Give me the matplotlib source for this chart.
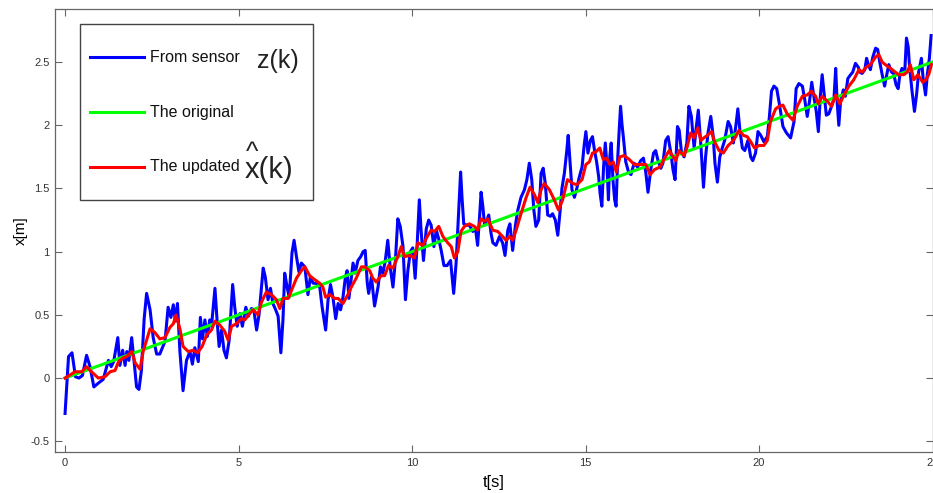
import matplotlib.pyplot as plt
from matplotlib.lines import Line2D
from matplotlib.patches import Rectangle

# measured position z(k) from the sensor, by time segment
sensor_t_0 = [0.00, 0.10, 0.20, 0.30, 0.40, 0.50, 0.62, 0.72, 0.83, 0.96,
              1.10, 1.25, 1.33, 1.40, 1.52, 1.58, 1.66, 1.73, 1.78, 1.84,
              1.92, 1.99, 2.06, 2.13, 2.20, 2.28, 2.35, 2.45, 2.54, 2.64,
              2.73, 2.88, 2.97, 3.05, 3.12, 3.18, 3.24, 3.31, 3.40, 3.50,
              3.60, 3.67, 3.74, 3.84]
sensor_x_0 = [-0.28, 0.17, 0.20, 0.01, 0.00, 0.02, 0.18, 0.09, -0.07, -0.04,
              -0.01, 0.14, 0.09, 0.13, 0.32, 0.10, 0.22, 0.10, 0.21, 0.14,
              0.32, 0.13, -0.07, -0.09, 0.06, 0.47, 0.67, 0.54, 0.32, 0.19,
              0.19, 0.29, 0.56, 0.48, 0.58, 0.45, 0.59, 0.21, -0.10, 0.14,
              0.21, 0.11, 0.24, 0.13]

sensor_t_1 = [3.90, 3.96, 4.03, 4.10, 4.17, 4.22, 4.32, 4.38, 4.44, 4.51,
              4.58, 4.65, 4.73, 4.83, 4.89, 4.96, 5.04, 5.11, 5.21, 5.28,
              5.37, 5.44, 5.52, 5.59, 5.71, 5.77, 5.85, 5.92, 5.99, 6.07,
              6.14, 6.22, 6.28, 6.33, 6.40, 6.46, 6.54, 6.60, 6.67, 6.74,
              6.81, 6.91, 7.00, 7.07, 7.15, 7.24, 7.34, 7.41, 7.51, 7.58,
              7.65, 7.72, 7.80, 7.87, 7.94, 8.01]
sensor_x_1 = [0.48, 0.31, 0.46, 0.33, 0.46, 0.41, 0.71, 0.46, 0.25, 0.38,
              0.22, 0.16, 0.30, 0.74, 0.56, 0.41, 0.51, 0.41, 0.56, 0.49,
              0.55, 0.54, 0.38, 0.50, 0.87, 0.80, 0.62, 0.71, 0.59, 0.54,
              0.49, 0.20, 0.46, 0.83, 0.72, 0.64, 0.99, 1.09, 0.96, 0.84,
              0.91, 0.88, 0.66, 0.80, 0.75, 0.75, 0.72, 0.56, 0.38, 0.62,
              0.74, 0.64, 0.47, 0.59, 0.54, 0.64]

sensor_t_2 = [8.08, 8.13, 8.18, 8.30, 8.36, 8.44, 8.52, 8.59, 8.65, 8.71,
              8.75, 8.83, 8.92, 9.02, 9.09, 9.16, 9.23, 9.30, 9.37, 9.45,
              9.52, 9.59, 9.66, 9.74, 9.81, 9.88, 9.95, 10.02, 10.09, 10.15,
              10.21, 10.26, 10.33, 10.41, 10.48, 10.55, 10.63, 10.70, 10.77, 10.84,
              10.92, 11.01, 11.11, 11.20, 11.27, 11.34, 11.40, 11.44, 11.49, 11.56,
              11.65, 11.75, 11.83, 11.89, 11.94, 11.99, 12.04, 12.09, 12.16, 12.21]
sensor_x_2 = [0.80, 0.85, 0.63, 0.91, 0.83, 0.93, 0.96, 1.00, 1.01, 0.75,
              0.67, 0.80, 0.57, 0.72, 0.88, 0.83, 0.93, 1.09, 0.88, 0.72,
              0.93, 1.26, 1.20, 1.04, 0.62, 0.85, 1.00, 1.03, 0.79, 1.07,
              1.41, 1.17, 0.93, 1.18, 1.25, 1.21, 1.04, 1.17, 1.10, 1.01,
              0.89, 0.89, 0.93, 0.67, 0.91, 1.29, 1.63, 1.43, 1.22, 1.21,
              1.21, 1.16, 1.18, 1.05, 1.25, 1.47, 1.36, 1.21, 1.25, 1.29]

sensor_t_3 = [12.28, 12.33, 12.42, 12.52, 12.61, 12.68, 12.76, 12.82, 12.90, 12.98,
              13.05, 13.14, 13.24, 13.31, 13.38, 13.45, 13.51, 13.57, 13.65, 13.72,
              13.78, 13.84, 13.91, 13.99, 14.05, 14.13, 14.20, 14.26, 14.32, 14.39,
              14.46, 14.50, 14.55, 14.61, 14.68, 14.74, 14.82, 14.90, 14.96, 15.01,
              15.07, 15.14, 15.20, 15.26, 15.32, 15.38, 15.42, 15.47, 15.52, 15.57,
              15.62, 15.66, 15.70, 15.74, 15.79, 15.84, 15.88, 15.93, 15.97, 16.01,
              16.05, 16.10, 16.16, 16.24, 16.31]
sensor_x_3 = [1.14, 1.07, 1.05, 1.12, 1.07, 0.97, 1.17, 1.22, 1.01, 1.21,
              1.33, 1.43, 1.49, 1.57, 1.70, 1.57, 1.33, 1.20, 1.25, 1.62,
              1.66, 1.54, 1.29, 1.28, 1.30, 1.25, 1.13, 1.30, 1.50, 1.62,
              1.80, 1.92, 1.72, 1.49, 1.43, 1.49, 1.59, 1.67, 1.84, 1.95,
              1.78, 1.88, 1.91, 1.80, 1.71, 1.59, 1.46, 1.36, 1.67, 1.86,
              1.67, 1.41, 1.75, 1.86, 1.57, 1.41, 1.36, 1.75, 1.96, 2.15,
              2.01, 1.88, 1.71, 1.63, 1.61]

sensor_t_4 = [16.40, 16.50, 16.59, 16.67, 16.74, 16.80, 16.88, 16.96, 17.02, 17.09,
              17.17, 17.23, 17.31, 17.38, 17.46, 17.52, 17.58, 17.65, 17.70, 17.76,
              17.84, 17.92, 17.98, 18.05, 18.13, 18.19, 18.25, 18.32, 18.40, 18.46,
              18.53, 18.61, 18.68, 18.73, 18.80, 18.87, 18.94, 19.01, 19.11, 19.18,
              19.26, 19.33, 19.39, 19.45, 19.52, 19.59, 19.68, 19.76, 19.82, 19.90,
              19.97, 20.05, 20.14, 20.24, 20.30, 20.36, 20.43, 20.51]
sensor_x_4 = [1.70, 1.67, 1.72, 1.74, 1.62, 1.47, 1.65, 1.78, 1.80, 1.72,
              1.66, 1.70, 1.88, 1.91, 1.78, 1.65, 1.57, 1.99, 1.96, 1.80,
              1.75, 1.86, 2.15, 2.07, 1.82, 1.98, 2.12, 1.86, 1.51, 1.75,
              1.94, 2.07, 1.91, 1.70, 1.55, 1.75, 1.82, 1.88, 2.03, 1.99,
              1.86, 1.99, 2.13, 1.96, 1.82, 1.80, 1.88, 1.75, 1.72, 1.78,
              1.95, 1.92, 1.87, 1.91, 2.07, 2.27, 2.31, 2.29]

sensor_t_5 = [20.58, 20.62, 20.69, 20.79, 20.91, 21.01, 21.07, 21.15, 21.25, 21.32,
              21.39, 21.46, 21.52, 21.58, 21.65, 21.71, 21.77, 21.82, 21.87, 21.94,
              22.01, 22.09, 22.16, 22.21, 22.25, 22.30, 22.35, 22.43, 22.49, 22.56,
              22.64, 22.70, 22.78, 22.86, 22.91, 22.97, 23.05, 23.10, 23.15, 23.21,
              23.28, 23.36, 23.42, 23.48, 23.55, 23.62, 23.66, 23.74, 23.82, 23.88,
              23.95, 24.01, 24.06, 24.12, 24.20, 24.25, 24.30, 24.34, 24.41, 24.48,
              24.54, 24.60, 24.68, 24.73, 24.80, 24.85, 24.91, 24.96]
sensor_x_5 = [2.18, 2.11, 1.99, 1.94, 1.90, 2.03, 2.29, 2.33, 2.31, 2.20,
              2.07, 2.20, 2.34, 2.23, 2.11, 1.95, 2.24, 2.40, 2.27, 2.08,
              2.09, 2.15, 2.21, 2.45, 2.19, 2.00, 2.19, 2.28, 2.23, 2.37,
              2.40, 2.42, 2.49, 2.46, 2.42, 2.41, 2.44, 2.53, 2.48, 2.44,
              2.54, 2.61, 2.60, 2.50, 2.40, 2.31, 2.37, 2.48, 2.42, 2.41,
              2.32, 2.29, 2.40, 2.45, 2.42, 2.69, 2.62, 2.46, 2.27, 2.11,
              2.24, 2.42, 2.53, 2.37, 2.24, 2.40, 2.53, 2.71]

# updated estimate x^(k)
updated_t_0 = [0.00, 0.29, 0.48, 0.62, 0.76, 0.96, 1.15, 1.30, 1.44, 1.54,
               1.68, 1.78, 1.92, 2.02, 2.16, 2.25, 2.45, 2.59, 2.73, 2.88,
               3.02, 3.12, 3.20, 3.31, 3.40, 3.55, 3.69, 3.82, 3.95]
updated_x_0 = [0.00, 0.05, 0.05, 0.09, 0.05, 0.00, 0.01, 0.05, 0.06, 0.13,
               0.16, 0.17, 0.21, 0.12, 0.07, 0.21, 0.39, 0.36, 0.31, 0.32,
               0.40, 0.43, 0.50, 0.39, 0.25, 0.21, 0.22, 0.20, 0.25]
updated_t_1 = [4.08, 4.22, 4.32, 4.46, 4.60, 4.70, 4.80, 4.94, 5.08, 5.18,
               5.32, 5.42, 5.56, 5.66, 5.80, 5.95, 6.09, 6.19, 6.28, 6.43,
               6.55, 6.67, 6.81, 6.91, 7.05, 7.19, 7.34, 7.43, 7.51, 7.63,
               7.77, 7.87, 8.01]
updated_x_1 = [0.34, 0.38, 0.45, 0.42, 0.37, 0.30, 0.41, 0.43, 0.47, 0.46,
               0.51, 0.54, 0.50, 0.60, 0.68, 0.66, 0.62, 0.55, 0.63, 0.63,
               0.71, 0.79, 0.85, 0.88, 0.81, 0.78, 0.75, 0.72, 0.64, 0.66,
               0.63, 0.63, 0.59]
updated_t_2 = [8.15, 8.25, 8.39, 8.54, 8.63, 8.78, 8.87, 8.97, 9.11, 9.21,
               9.32, 9.45, 9.59, 9.69, 9.78, 9.93, 10.07, 10.17, 10.31, 10.44,
               10.55, 10.65, 10.77, 10.89, 11.03, 11.13, 11.22, 11.32, 11.41, 11.51,
               11.65, 11.80, 11.89, 11.99, 12.09, 12.18]
updated_x_2 = [0.66, 0.72, 0.79, 0.88, 0.88, 0.85, 0.79, 0.76, 0.81, 0.81,
               0.89, 0.87, 0.96, 1.04, 0.96, 0.97, 0.95, 1.07, 1.05, 1.12,
               1.17, 1.16, 1.20, 1.12, 1.07, 1.04, 0.95, 1.00, 1.16, 1.20,
               1.22, 1.20, 1.17, 1.26, 1.24, 1.26]
updated_t_3 = [12.33, 12.47, 12.61, 12.71, 12.81, 12.90, 13.00, 13.14, 13.29, 13.40,
               13.53, 13.62, 13.72, 13.81, 13.96, 14.10, 14.22, 14.34, 14.48, 14.63,
               14.75, 14.90, 15.01, 15.11, 15.20, 15.30, 15.41, 15.51, 15.61, 15.70,
               15.80, 15.89, 15.99, 16.11, 16.26, 16.40]
updated_x_3 = [1.17, 1.16, 1.12, 1.09, 1.12, 1.09, 1.17, 1.30, 1.43, 1.51,
               1.45, 1.39, 1.49, 1.54, 1.49, 1.41, 1.33, 1.41, 1.57, 1.54,
               1.53, 1.57, 1.69, 1.71, 1.78, 1.79, 1.82, 1.73, 1.74, 1.69,
               1.71, 1.63, 1.75, 1.76, 1.73, 1.69]
updated_t_4 = [16.59, 16.74, 16.86, 16.99, 17.15, 17.28, 17.41, 17.53, 17.60, 17.69,
               17.84, 17.93, 18.03, 18.13, 18.24, 18.32, 18.41, 18.51, 18.63, 18.72,
               18.85, 18.97, 19.11, 19.23, 19.33, 19.42, 19.55, 19.66, 19.76, 19.87,
               20.00, 20.14, 20.24, 20.33, 20.48]
updated_x_4 = [1.69, 1.69, 1.61, 1.65, 1.67, 1.74, 1.80, 1.75, 1.72, 1.80,
               1.76, 1.83, 1.94, 1.90, 1.98, 1.88, 1.90, 1.92, 1.95, 1.87,
               1.80, 1.78, 1.84, 1.87, 1.91, 1.96, 1.92, 1.91, 1.87, 1.82,
               1.84, 1.84, 1.88, 2.03, 2.13]
updated_t_5 = [20.58, 20.69, 20.81, 20.98, 21.10, 21.25, 21.39, 21.51, 21.63, 21.71,
               21.82, 21.97, 22.09, 22.21, 22.33, 22.45, 22.59, 22.73, 22.88, 22.97,
               23.09, 23.21, 23.36, 23.45, 23.55, 23.64, 23.79, 23.93, 24.03, 24.17,
               24.27, 24.36, 24.46, 24.58, 24.72, 24.81, 24.89, 24.97]
updated_x_5 = [2.15, 2.16, 2.09, 2.04, 2.15, 2.23, 2.24, 2.27, 2.23, 2.17,
               2.23, 2.19, 2.15, 2.24, 2.17, 2.24, 2.31, 2.36, 2.44, 2.42,
               2.46, 2.48, 2.54, 2.56, 2.50, 2.48, 2.45, 2.42, 2.40, 2.40,
               2.42, 2.48, 2.36, 2.40, 2.34, 2.36, 2.40, 2.48]

# true trajectory
original_t = [0.0, 25.0]
original_x = [0.0, 2.5]

sensor_t = sensor_t_0 + sensor_t_1 + sensor_t_2 + sensor_t_3 + sensor_t_4 + sensor_t_5
sensor_x = sensor_x_0 + sensor_x_1 + sensor_x_2 + sensor_x_3 + sensor_x_4 + sensor_x_5
updated_t = updated_t_0 + updated_t_1 + updated_t_2 + updated_t_3 + updated_t_4 + updated_t_5
updated_x = updated_x_0 + updated_x_1 + updated_x_2 + updated_x_3 + updated_x_4 + updated_x_5
assert len(sensor_t) == len(sensor_x), (len(sensor_t), len(sensor_x))
assert len(updated_t) == len(updated_x), (len(updated_t), len(updated_x))

xticks = [0, 5, 10, 15, 20, 25]
yticks = [-0.5, 0, 0.5, 1, 1.5, 2, 2.5]
ytick_labels = ['-0.5', '0', '0.5', '1', '1.5', '2', '2.5']

BLUE, GREEN, RED = '#0000ff', '#00ff00', '#ff0000'
plt.rcParams['font.family'] = ['Liberation Sans', 'DejaVu Sans']

W, H = 933, 493
fig = plt.figure(figsize=(W / 100, H / 100), dpi=100)
ax = fig.add_axes([55 / W, 1 - 452 / H, 877.5 / W, 443 / H])

ax.plot(sensor_t, sensor_x, color=BLUE, lw=2.2)
ax.plot(original_t, original_x, color=GREEN, lw=2.2)
ax.plot(updated_t, updated_x, color=RED, lw=2.2)

ax.set_xlim(-0.29, 25.0)
ax.set_ylim(-0.585, 2.92)
ax.set_xticks(xticks)
ax.set_yticks(yticks)
ax.set_yticklabels(ytick_labels)
ax.tick_params(direction='in', top=True, right=True, length=5, width=0.8,
               color='#666666', labelcolor='#333333', labelsize=8, pad=4)
for sp in ax.spines.values():
    sp.set_color('#666666')
    sp.set_linewidth(0.9)

ax.set_xlabel('t[s]', fontsize=12, labelpad=5)
ax.set_ylabel('x[m]', fontsize=11, labelpad=2)


def fpos(x, y):
    # pixel position (from top-left) to figure fraction
    return x / W, 1 - y / H


# legend box drawn by hand so the big z(k) / x^(k) symbols fit inside
fig.add_artist(Rectangle(fpos(80, 200), 233 / W, 176 / H, transform=fig.transFigure,
                         facecolor='white', edgecolor='#444444', lw=1.0, zorder=5))
rows = [(57, BLUE, 'From sensor'), (112, GREEN, 'The original'), (167, RED, 'The updated')]
for y, c, label in rows:
    x0, yy = fpos(90, y)
    x1, _ = fpos(144, y)
    fig.add_artist(Line2D([x0, x1], [yy, yy], transform=fig.transFigure,
                          color=c, lw=2.2, zorder=6))
    fig.text(150 / W, yy, label, fontsize=11.5, va='center', color='#111111', zorder=6)

fig.text(*fpos(257, 68), 'z(k)', fontsize=18, va='baseline', color='#222222', zorder=6)
fig.text(*fpos(245, 178), 'x(k)', fontsize=21, va='baseline', color='#222222', zorder=6)
fig.text(*fpos(252, 160), '^', fontsize=19, ha='center', va='baseline',
         color='#222222', zorder=6)

fig.savefig('out.png', dpi=100)
